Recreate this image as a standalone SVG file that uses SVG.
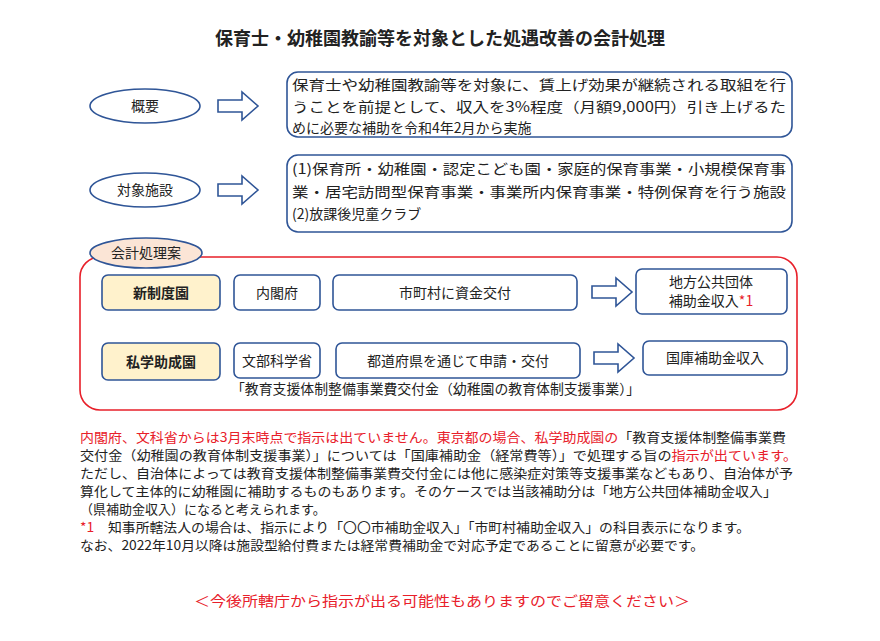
<svg xmlns="http://www.w3.org/2000/svg" width="880" height="641" viewBox="0 0 880 641">
<defs>
<style>
text{font-family:"Noto Sans CJK JP","Noto Sans",sans-serif;fill:#222;font-size:14px}
.t{font-family:"Liberation Serif","Noto Sans CJK JP",serif;font-weight:bold;font-size:18px}
.b{fill:#fff;stroke:#2F5597;stroke-width:1.6}
.y{fill:#FFF2CC;stroke:#2F5597;stroke-width:1.6}
.ar{fill:#fff;stroke:#2F5597;stroke-width:1.6}
.r{fill:#E8202A}
.n{font-size:13px}
.m{text-anchor:middle}
</style>
<path id="arr" d="M0,-6 H24 V-14 L40,0 L24,14 V6 H0 Z"/>
</defs>
<rect width="880" height="641" fill="#fff"/>
<text class="t m" x="440" y="45">保育士・幼稚園教諭等を対象とした処遇改善の会計処理</text>
<g id="n-gaiyo"><ellipse class="b" cx="145" cy="106" rx="55" ry="17"/><text class="m" x="145" y="111">概要</text></g>
<use href="#arr" x="218" y="106" class="ar"/>
<g id="n-box1"><rect class="b" x="287" y="72" width="505" height="65" rx="11"/>
<text x="292" y="90" textLength="494" lengthAdjust="spacingAndGlyphs">保育士や幼稚園教諭等を対象に、賃上げ効果が継続される取組を行</text>
<text x="292" y="112" textLength="494" lengthAdjust="spacingAndGlyphs">うことを前提として、収入を3%程度（月額9,000円）引き上げるた</text>
<text x="292" y="133">めに必要な補助を令和4年2月から実施</text></g>
<g id="n-taisho"><ellipse class="b" cx="145" cy="190" rx="55" ry="17"/><text class="m" x="145" y="195">対象施設</text></g>
<use href="#arr" x="218" y="190" class="ar"/>
<g id="n-box2"><rect class="b" x="287" y="155" width="505" height="77" rx="11"/>
<text x="292" y="174" textLength="494" lengthAdjust="spacingAndGlyphs">(1)保育所・幼稚園・認定こども園・家庭的保育事業・小規模保育事</text>
<text x="292" y="197" textLength="494" lengthAdjust="spacingAndGlyphs">業・居宅訪問型保育事業・事業所内保育事業・特例保育を行う施設</text>
<text x="292" y="219">(2)放課後児童クラブ</text></g>
<rect x="80" y="257" width="717" height="153" rx="20" fill="none" stroke="#E8202A" stroke-width="1.6"/>
<g id="n-kaikei"><ellipse cx="146" cy="253" rx="56" ry="15" fill="#FBE5D6" stroke="#2F5597" stroke-width="1.6"/><text class="m" x="146" y="258">会計処理案</text></g>
<g id="n-shin"><rect class="y" x="102" y="275" width="118" height="35" rx="6"/><text class="m" x="161" y="298" font-weight="bold" font-size="15">新制度園</text></g>
<g id="n-naikaku"><rect class="b" x="234" y="275" width="86" height="35" rx="6"/><text class="m" x="277" y="298">内閣府</text></g>
<g id="n-shicho"><rect class="b" x="333" y="275" width="244" height="35" rx="6"/><text class="m" x="455" y="298">市町村に資金交付</text></g>
<use href="#arr" x="592" y="292" class="ar"/>
<g id="n-chiho"><rect class="b" x="636" y="269" width="151" height="45" rx="6"/><text class="m" x="711" y="287">地方公共団体</text><text class="m" x="711" y="306">補助金収入<tspan class="r">*1</tspan></text></g>
<g id="n-shigaku"><rect class="y" x="102" y="343" width="118" height="37" rx="6"/><text class="m" x="161" y="367" font-weight="bold" font-size="15">私学助成園</text></g>
<g id="n-monbu"><rect class="b" x="234" y="343" width="86" height="35" rx="6"/><text class="m" x="277" y="366">文部科学省</text></g>
<g id="n-todo"><rect class="b" x="336" y="343" width="244" height="35" rx="6"/><text class="m" x="458" y="366">都道府県を通じて申請・交付</text></g>
<use href="#arr" x="594" y="358" class="ar"/>
<g id="n-kokko"><rect class="b" x="643" y="341" width="144" height="34" rx="6"/><text class="m" x="715" y="363">国庫補助金収入</text></g>
<text x="231" y="394" font-size="12.5" fill="#444" textLength="409" lengthAdjust="spacingAndGlyphs">「教育支援体制整備事業費交付金（幼稚園の教育体制支援事業）」</text>
<g class="n">
<text class="n" x="80" y="442" textLength="706" lengthAdjust="spacingAndGlyphs"><tspan class="r">内閣府、文科省からは3月末時点で指示は出ていません。東京都の場合、私学助成園の</tspan>「教育支援体制整備事業費</text>
<text class="n" x="80" y="460" textLength="717" lengthAdjust="spacingAndGlyphs">交付金（幼稚園の教育体制支援事業）」については「国庫補助金（経常費等）」で処理する旨の<tspan class="r">指示が出ています。</tspan></text>
<text class="n" x="80" y="478" textLength="713" lengthAdjust="spacingAndGlyphs">ただし、自治体によっては教育支援体制整備事業費交付金には他に感染症対策等支援事業などもあり、自治体が予</text>
<text class="n" x="80" y="496" textLength="697" lengthAdjust="spacingAndGlyphs">算化して主体的に幼稚園に補助するものもあります。そのケースでは当該補助分は「地方公共団体補助金収入」</text>
<text class="n" x="80" y="514">（県補助金収入）になると考えられます。</text>
<text class="n" x="80" y="532" textLength="670" lengthAdjust="spacingAndGlyphs"><tspan class="r">*1</tspan>　知事所轄法人の場合は、指示により「〇〇市補助金収入」「市町村補助金収入」の科目表示になります。</text>
<text class="n" x="80" y="550" textLength="624" lengthAdjust="spacingAndGlyphs">なお、2022年10月以降は施設型給付費または経常費補助金で対応予定であることに留意が必要です。</text>
</g>
<text class="r" x="194" y="606" font-family="Liberation Serif,Noto Sans CJK JP,serif" font-size="15" textLength="496" lengthAdjust="spacingAndGlyphs">＜今後所轄庁から指示が出る可能性もありますのでご留意ください＞</text>
</svg>
